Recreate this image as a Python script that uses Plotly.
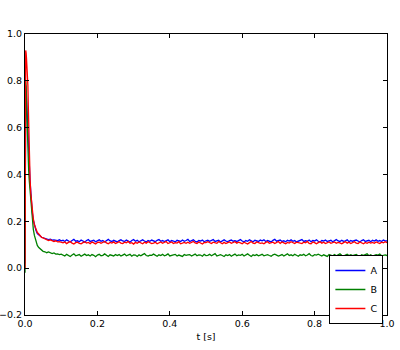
import plotly.graph_objects as go

# time samples [s]
t_head = [0.0, 0.001, 0.002, 0.003, 0.004, 0.005, 0.006, 0.007, 0.008, 0.009,
          0.010, 0.012, 0.014, 0.016, 0.018, 0.020, 0.023, 0.026, 0.030, 0.034,
          0.038, 0.042, 0.046, 0.050, 0.055, 0.060, 0.065, 0.070, 0.075, 0.080,
          0.085, 0.090, 0.095, 0.100]
t_tail = [
    0.105, 0.110, 0.115, 0.120, 0.125, 0.130, 0.135, 0.140, 0.145, 0.150,
    0.155, 0.160, 0.165, 0.170, 0.175, 0.180, 0.185, 0.190, 0.195, 0.200,
    0.205, 0.210, 0.215, 0.220, 0.225, 0.230, 0.235, 0.240, 0.245, 0.250,
    0.255, 0.260, 0.265, 0.270, 0.275, 0.280, 0.285, 0.290, 0.295, 0.300,
    0.305, 0.310, 0.315, 0.320, 0.325, 0.330, 0.335, 0.340, 0.345, 0.350,
    0.355, 0.360, 0.365, 0.370, 0.375, 0.380, 0.385, 0.390, 0.395, 0.400,
    0.405, 0.410, 0.415, 0.420, 0.425, 0.430, 0.435, 0.440, 0.445, 0.450,
    0.455, 0.460, 0.465, 0.470, 0.475, 0.480, 0.485, 0.490, 0.495, 0.500,
    0.505, 0.510, 0.515, 0.520, 0.525, 0.530, 0.535, 0.540, 0.545, 0.550,
    0.555, 0.560, 0.565, 0.570, 0.575, 0.580, 0.585, 0.590, 0.595, 0.600,
    0.605, 0.610, 0.615, 0.620, 0.625, 0.630, 0.635, 0.640, 0.645, 0.650,
    0.655, 0.660, 0.665, 0.670, 0.675, 0.680, 0.685, 0.690, 0.695, 0.700,
    0.705, 0.710, 0.715, 0.720, 0.725, 0.730, 0.735, 0.740, 0.745, 0.750,
    0.755, 0.760, 0.765, 0.770, 0.775, 0.780, 0.785, 0.790, 0.795, 0.800,
    0.805, 0.810, 0.815, 0.820, 0.825, 0.830, 0.835, 0.840, 0.845, 0.850,
    0.855, 0.860, 0.865, 0.870, 0.875, 0.880, 0.885, 0.890, 0.895, 0.900,
    0.905, 0.910, 0.915, 0.920, 0.925, 0.930, 0.935, 0.940, 0.945, 0.950,
    0.955, 0.960, 0.965, 0.970, 0.975, 0.980, 0.985, 0.990, 0.995, 1.000]

a_head = [0.02, 0.50, 0.78, 0.76, 0.74, 0.71, 0.66, 0.62, 0.58, 0.56,
          0.52, 0.44, 0.37, 0.31, 0.275, 0.24, 0.205, 0.18, 0.163, 0.148,
          0.141, 0.137, 0.132, 0.130, 0.127, 0.124, 0.122, 0.124, 0.120, 0.121,
          0.119, 0.118, 0.121, 0.117]
a_tail = [
    .119, .114, .121, .116, .112, .118, .123, .115, .117, .113,
    .120, .116, .111, .118, .122, .114, .117, .119, .113, .116,
    .121, .115, .118, .112, .117, .123, .116, .114, .119, .115,
    .112, .118, .121, .116, .114, .120, .117, .111, .118, .122,
    .115, .119, .113, .117, .121, .116, .112, .118, .115, .120,
    .117, .113, .119, .122, .115, .118, .114, .116, .121, .113,
    .118, .116, .112, .119, .117, .114, .120, .115, .118, .123,
    .114, .117, .121, .115, .112, .118, .116, .120, .113, .117,
    .119, .115, .118, .122, .114, .116, .119, .112, .117, .121,
    .116, .113, .118, .120, .115, .117, .114, .119, .122, .116,
    .112, .118, .115, .121, .117, .113, .119, .116, .114, .120,
    .117, .121, .114, .118, .116, .112, .119, .123, .115, .117,
    .120, .114, .117, .113, .119, .116, .121, .115, .118, .112,
    .116, .119, .122, .114, .117, .115, .120, .113, .118, .116,
    .121, .115, .112, .118, .116, .120, .114, .117, .119, .113,
    .118, .122, .116, .114, .119, .115, .117, .121, .113, .118,
    .115, .117, .120, .116, .112, .118, .121, .114, .117, .119,
    .113, .119, .116, .121, .115, .118, .114, .120, .117, .116]

b_head = [-0.02, 0.40, 0.80, 0.78, 0.72, 0.66, 0.60, 0.55, 0.50, 0.46,
          0.42, 0.37, 0.33, 0.29, 0.245, 0.21, 0.165, 0.14, 0.115, 0.097,
          0.088, 0.082, 0.078, 0.072, 0.070, 0.066, 0.069, 0.064, 0.062, 0.065,
          0.060, 0.061, 0.058, 0.060]
b_tail = [
    .057, .052, .059, .054, .050, .056, .061, .053, .055, .058,
    .051, .056, .060, .054, .057, .052, .058, .055, .049, .056,
    .059, .053, .055, .061, .054, .050, .057, .056, .052, .058,
    .054, .058, .052, .056, .060, .053, .055, .059, .051, .057,
    .056, .050, .057, .053, .058, .062, .054, .052, .056, .055,
    .060, .055, .051, .057, .054, .059, .053, .056, .061, .052,
    .053, .057, .059, .052, .056, .054, .050, .058, .055, .057,
    .058, .052, .055, .060, .053, .057, .056, .051, .059, .054,
    .055, .059, .053, .056, .062, .052, .055, .058, .054, .050,
    .057, .054, .058, .051, .056, .060, .053, .057, .055, .059,
    .052, .056, .061, .055, .050, .057, .054, .058, .053, .056,
    .059, .053, .055, .058, .054, .051, .057, .060, .056, .052,
    .055, .058, .052, .056, .061, .054, .057, .053, .059, .055,
    .051, .057, .055, .059, .053, .056, .062, .054, .052, .058,
    .056, .060, .054, .052, .057, .055, .050, .058, .055, .053,
    .058, .053, .057, .061, .055, .052, .056, .059, .054, .057,
    .054, .056, .059, .053, .050, .057, .055, .058, .061, .053,
    .057, .052, .055, .058, .056, .060, .053, .055, .057, .054]

c_head = [0.00, 0.62, 0.93, 0.92, 0.90, 0.88, 0.85, 0.82, 0.78, 0.70,
          0.60, 0.47, 0.38, 0.32, 0.28, 0.245, 0.21, 0.185, 0.168, 0.152,
          0.146, 0.138, 0.131, 0.129, 0.125, 0.122, 0.118, 0.121, 0.116, 0.114,
          0.117, 0.112, 0.113, 0.110]
c_tail = [
    .108, .112, .105, .110, .114, .107, .103, .109, .111, .106,
    .104, .109, .113, .107, .110, .105, .112, .108, .103, .110,
    .111, .106, .109, .114, .108, .104, .110, .107, .112, .105,
    .109, .113, .107, .105, .111, .108, .114, .106, .109, .103,
    .110, .106, .112, .108, .104, .111, .107, .113, .109, .105,
    .107, .111, .104, .109, .112, .106, .110, .114, .105, .108,
    .112, .105, .109, .107, .113, .104, .108, .110, .106, .111,
    .106, .110, .114, .108, .105, .112, .107, .103, .110, .109,
    .113, .107, .105, .111, .109, .106, .114, .108, .104, .110,
    .105, .109, .112, .106, .110, .113, .107, .111, .108, .104,
    .111, .108, .103, .109, .114, .107, .105, .112, .110, .106,
    .108, .104, .110, .113, .106, .109, .111, .105, .108, .114,
    .106, .112, .108, .104, .110, .107, .113, .109, .105, .111,
    .110, .107, .105, .111, .108, .114, .106, .104, .112, .109,
    .104, .109, .113, .107, .111, .105, .108, .112, .106, .110,
    .112, .106, .110, .108, .104, .109, .113, .107, .111, .105,
    .109, .113, .107, .105, .112, .108, .104, .110, .106, .111,
    .107, .110, .106, .112, .109, .105, .111, .108, .113, .109]

series_names = ["A", "B", "C"]
series_colors = ["#0000ff", "#008000", "#ff0000"]

t = t_head + t_tail
series_values = [a_head + a_tail, b_head + b_tail, c_head + c_tail]

fig = go.Figure()
for name, color, vals in zip(series_names, series_colors, series_values):
    fig.add_trace(go.Scatter(x=t, y=vals, mode="lines", name=name,
                             line=dict(color=color, width=1.3)))

FONT = "DejaVu Sans"
axis_common = dict(showline=True, linecolor="black", linewidth=1, mirror="ticks",
                   ticks="inside", ticklen=4, tickcolor="black", tickwidth=1,
                   showgrid=False, zeroline=False, dtick=0.2, tickformat=".1f",
                   automargin=False,
                   tickfont=dict(family=FONT, size=9.5, color="black"))

fig.update_layout(
    width=400, height=350,
    margin=dict(l=25, r=13, t=34, b=35),
    paper_bgcolor="white", plot_bgcolor="white",
    font=dict(family=FONT, size=9.5, color="black"),
    xaxis=dict(range=[0, 1], tick0=0,
               title=dict(text="t [s]", font=dict(family=FONT, size=9.5), standoff=4),
               **axis_common),
    yaxis=dict(range=[-0.2, 1.0], tick0=-0.2, **axis_common),
    legend=dict(x=0.99, y=0.2135, xanchor="right", yanchor="top",
                bordercolor="black", borderwidth=1, bgcolor="white",
                tracegroupgap=0, itemwidth=30,
                font=dict(family=FONT, size=9.5, color="black")),
    showlegend=True,
)

# remove the page's default body margin so the figure sits at the window origin
fig.write_html("out.html", config={"displayModeBar": False},
               post_script="document.body.style.margin='0';")
